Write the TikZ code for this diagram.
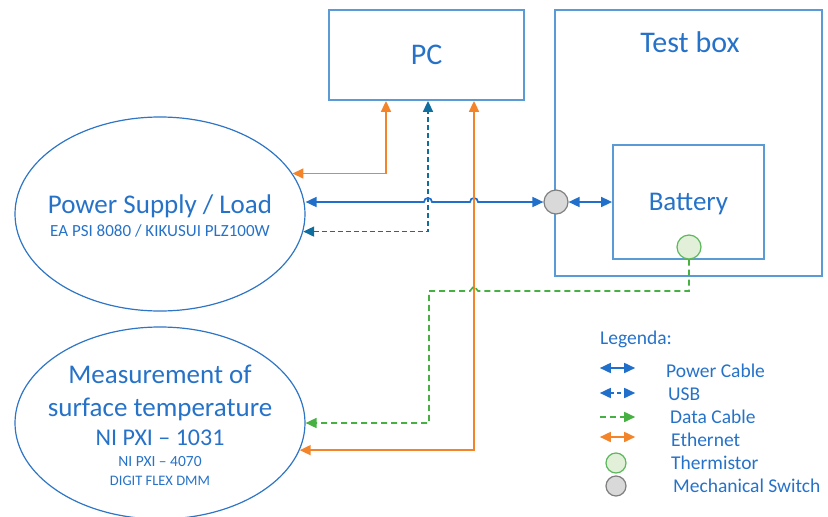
\documentclass[tikz,border=0pt]{standalone}
\usepackage{fontspec}
\setmainfont{Carlito}
\usetikzlibrary{arrows.meta,positioning,calc,shapes.geometric}

\definecolor{txtblue}{HTML}{2672C8}
\definecolor{boxblue}{HTML}{5B9BD5}
\definecolor{ellblue}{HTML}{2E75C6}
\definecolor{pwrblue}{HTML}{1F6FCB}
\definecolor{usbblue}{HTML}{0F6E9E}
\definecolor{ethorange}{HTML}{F4842A}
\definecolor{datagreen}{HTML}{47B043}
\definecolor{thermfill}{HTML}{E2F0D9}
\definecolor{thermdraw}{HTML}{5CB85C}
\definecolor{swfill}{HTML}{D9D9D9}
\definecolor{swdraw}{HTML}{7F7F7F}

\begin{document}
\begin{tikzpicture}[
  x=1pt, y=-1pt,
  every node/.style={text=txtblue, inner sep=0pt},
  >={Triangle[length=11pt,width=10pt]},
  box/.style={draw=boxblue, line width=1.8pt},
  ellip/.style={ellipse, draw=ellblue, line width=1.2pt, minimum width=290pt},
  dot/.style={circle, line width=1.2pt, minimum size=24pt},
  big/.style={font=\fontsize{30}{36}\selectfont},
  mid/.style={font=\fontsize{27}{32}\selectfont, anchor=base},
  small/.style={font=\fontsize{15.5}{18}\selectfont, anchor=base},
  key/.style={font=\fontsize{19.5}{23}\selectfont, anchor=base west},
  lgkey/.style={minimum width=35pt, minimum height=1pt},
  pwr/.style={pwrblue, line width=1.7pt},
  usb/.style={usbblue, line width=1.7pt, dash pattern=on 5pt off 3pt},
  eth/.style={ethorange, line width=1.7pt},
  data/.style={datagreen, line width=1.7pt, dash pattern=on 6pt off 4pt}
]
\useasboundingbox (0,0) rectangle (828,517);

% devices
\node[box, minimum width=195pt, minimum height=90pt, big] (pc) at (426.5,55) {PC};
\node[box, minimum width=267pt, minimum height=266pt] (tb) at (688.5,143) {};
\node[big, anchor=base] (tb-t) at (690,52) {Test box};
\node[box, minimum width=151pt, minimum height=114pt, font=\fontsize{27}{32}\selectfont,
      text depth=0pt] (bat) at (688.5,202) {Battery};
\node[dot, draw=swdraw, fill=swfill] (sw) at (556,202) {};
\node[dot, draw=thermdraw, fill=thermfill] (th) at (689,247) {};

\node[ellip, minimum height=194pt] (ps) at (160,214) {};
\node[mid] (ps-a) at (160,213) {Power Supply / Load};
\node[small, font=\fontsize{17}{20}\selectfont] (ps-b) at (160,236) {EA PSI 8080 / KIKUSUI PLZ100W};

\node[ellip, minimum height=192pt] (meas) at (160,423) {};
\node[mid] (meas-a) at (160,383) {Measurement of};
\node[mid] (meas-b) at (160,416) {surface temperature};
\node[mid, font=\fontsize{24}{28}\selectfont] (meas-c) at (160,445) {NI PXI -- 1031};
\node[small] (meas-d) at (160,466.5) {NI PXI -- 4070};
\node[small, font=\fontsize{14.5}{17}\selectfont] (meas-e) at (160,485.5) {DIGIT FLEX DMM};

% ports on the PC
\coordinate (pcA) at ([xshift=-40.5pt]pc.south);
\coordinate (pcB) at ([xshift=1.5pt]pc.south);
\coordinate (pcC) at ([xshift=47.5pt]pc.south);
\coordinate (gbend) at (429,291);

% cables
\draw[eth,<->] (ps.17.3) -| (pcA);
\draw[usb,<->] (ps.-7.2) -| (pcB);
\draw[pwr,<->] (ps.east |- sw.west)
  -- ($(pcB |- sw.west)+(-4,0)$) .. controls +(0,-5.3) and +(0,-5.3) .. ($(pcB |- sw.west)+(4,0)$)
  -- ($(pcC |- sw.west)+(-4,0)$) .. controls +(0,-5.3) and +(0,-5.3) .. ($(pcC |- sw.west)+(4,0)$)
  -- (sw.west);
\draw[pwr,<->] (sw.east) -- (bat.west);
\draw[eth,<->] (meas.-11.4) -| (pcC);
\draw[data,->] (th.south) |- ($(pcC |- gbend)+(4,0)$) -- ++(-4,-5) -- ++(-4,5)
  -- (gbend) |- (meas.east);

% legend
\node[key] (lg) at (600,344) {Legenda:};
\node[key] (lg-pwr) at (666,377.5) {Power Cable};
\node[key] (lg-usb) at (668,400) {USB};
\node[key] (lg-data) at (670,423.5) {Data Cable};
\node[key] (lg-eth) at (671,446.5) {Ethernet};
\node[key] (lg-th) at (671,469) {Thermistor};
\node[key] (lg-sw) at (673,492.5) {Mechanical Switch};

\node[lgkey] (k-pwr) at (617.5,368) {};
\node[lgkey] (k-usb) at (617.5,393) {};
\node[lgkey] (k-data) at (617.5,417) {};
\node[lgkey] (k-eth) at (617.5,437) {};
\node[dot, minimum size=20pt, draw=thermdraw, fill=thermfill] (k-th) at (616,463) {};
\node[dot, minimum size=20pt, draw=swdraw, fill=swfill] (k-sw) at (616,486) {};
\draw[pwr,<->] (k-pwr.west) -- (k-pwr.east);
\draw[pwr,<->, dash pattern=on 4pt off 3pt] (k-usb.west) -- (k-usb.east);
\draw[data,->] (k-data.west) -- (k-data.east);
\draw[eth,<->] (k-eth.west) -- (k-eth.east);
\end{tikzpicture}
\end{document}
